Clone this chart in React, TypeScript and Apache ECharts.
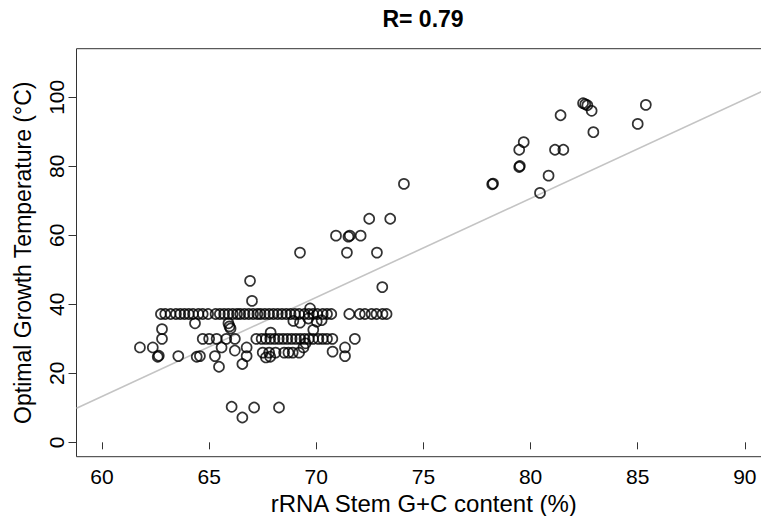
import React, { useEffect, useRef } from "react";
import * as echarts from "echarts";

const FONT = "Liberation Sans";

const titleText = "R= 0.79";
const xName = "rRNA Stem G+C content (%)";
const yName = "Optimal Growth Temperature (°C)";

const xTicks = [60, 65, 70, 75, 80, 85, 90];
const yTicks = [0, 20, 40, 60, 80, 100];

// hyperthermophiles / thermophiles
const hotPoints: number[][] = [
  [85.38, 97.8], [85.0, 92.3], [82.45, 98.3], [82.55, 98.0], [82.65, 97.7],
  [82.85, 96.1], [82.93, 89.9], [81.4, 94.8], [81.14, 84.8], [81.53, 84.8],
  [80.84, 77.3], [80.44, 72.3], [79.68, 87.0], [79.47, 84.8], [79.47, 79.8],
  [79.5, 80.1], [78.21, 74.8], [78.25, 75.0],
];

const midPoints: number[][] = [
  [74.09, 74.9], [72.47, 64.8], [73.45, 64.8], [70.92, 59.9], [71.5, 59.6],
  [71.56, 59.9], [72.07, 59.9], [69.24, 55.0], [71.43, 55.0], [72.83, 55.0],
  [73.08, 45.0], [66.91, 46.8], [67.0, 41.0],
];

const coldPoints: number[][] = [
  [66.05, 10.3], [67.1, 10.1], [68.26, 10.1], [66.55, 7.2],
];

// row of organisms at 37 °C
const row37X = [
  62.75, 62.95, 63.2, 63.45, 63.65, 63.85, 64.05, 64.25, 64.5, 64.7, 64.95,
  65.3, 65.5, 65.7, 65.9, 66.1, 66.3, 66.45, 66.65, 66.85, 67.05, 67.25, 67.4,
  67.6, 67.8, 68.0, 68.2, 68.4, 68.6, 68.8, 69.0, 69.2, 69.45, 69.65, 69.85,
  70.05, 70.3, 70.5, 70.7, 71.54, 72.03, 72.27, 72.58, 72.81, 73.09, 73.28,
];
const row37Y = 37.2;

const nearRowPoints: number[][] = [
  [64.34, 34.5], [65.9, 34.5], [65.95, 33.6], [66.0, 33.0], [62.8, 32.8],
  [68.93, 35.2], [69.24, 34.7], [69.63, 35.9], [69.71, 38.8], [69.86, 32.6],
  [70.02, 35.0], [70.25, 35.4], [67.87, 31.8],
];

// row of organisms at 30 °C
const row30X = [
  62.8, 64.7, 65.0, 65.35, 65.8, 66.2, 67.2, 67.45, 67.65, 67.85, 68.05, 68.25,
  68.45, 68.65, 68.85, 69.05, 69.25, 69.45, 69.65, 69.85, 70.1, 70.3, 70.5,
  70.75, 71.8,
];
const row30Y = 30.0;

const lowPoints: number[][] = [
  [61.77, 27.5], [62.37, 27.5], [62.6, 24.8], [62.65, 25.1], [63.56, 25.0],
  [64.42, 24.8], [64.57, 25.0], [65.27, 25.0], [65.46, 21.9], [65.58, 27.5],
  [66.2, 26.6], [66.55, 22.7], [66.75, 27.5], [66.75, 25.0], [67.5, 26.0],
  [67.65, 24.6], [67.8, 26.0], [67.85, 24.8], [68.1, 26.0], [68.5, 26.0],
  [68.7, 26.0], [68.9, 26.0], [69.2, 26.0], [69.4, 27.5], [69.5, 28.7],
  [70.76, 26.3], [71.34, 27.5], [71.34, 25.0],
];

// fitted regression line end points
const lineX = [58.81, 91.22];
const lineY = [9.9, 102.9];

export default function App() {
  const ref = useRef<HTMLDivElement>(null);

  useEffect(() => {
    if (!ref.current) return;
    const chart = echarts.init(ref.current, undefined, { renderer: "svg" });

    const points = [
      ...hotPoints,
      ...midPoints,
      ...coldPoints,
      ...row37X.map((x) => [x, row37Y]),
      ...nearRowPoints,
      ...row30X.map((x) => [x, row30Y]),
      ...lowPoints,
    ];

    const option: any = {
      animation: false,
      backgroundColor: "#ffffff",
      grid: {
        left: 76.5,
        top: 48.7,
        right: -10,
        bottom: 59.3,
        show: true,
        borderColor: "#333",
        borderWidth: 1,
        backgroundColor: "transparent",
        outerBoundsMode: "none",
        containLabel: false,
      },
      graphic: [
        {
          type: "text",
          x: 423,
          y: 19,
          style: {
            text: titleText,
            fontSize: 23,
            fontWeight: "bold",
            fontFamily: FONT,
            fill: "#000",
            align: "center",
            verticalAlign: "middle",
          },
        },
      ],
      xAxis: {
        type: "value",
        min: 58.81,
        max: 91.22,
        axisLine: { show: false },
        splitLine: { show: false },
        axisTick: {
          show: true,
          length: 7,
          customValues: xTicks,
          lineStyle: { color: "#333", width: 1 },
        },
        axisLabel: {
          customValues: xTicks,
          fontSize: 21,
          color: "#000",
          fontFamily: FONT,
          margin: 9,
        },
        name: xName,
        nameLocation: "middle",
        nameGap: 30,
        nameTextStyle: {
          fontSize: 24,
          color: "#000",
          fontFamily: FONT,
          verticalAlign: "top",
        },
      },
      yAxis: {
        type: "value",
        min: -4.17,
        max: 114.1,
        axisLine: { show: false },
        splitLine: { show: false },
        axisTick: {
          show: true,
          length: 8,
          customValues: yTicks,
          lineStyle: { color: "#333", width: 1 },
        },
        axisLabel: {
          customValues: yTicks,
          fontSize: 21,
          color: "#000",
          fontFamily: FONT,
          rotate: 90,
          margin: 10,
        },
        name: yName,
        nameLocation: "middle",
        nameGap: 42,
        nameRotate: 90,
        nameTextStyle: { fontSize: 23, color: "#000", fontFamily: FONT },
      },
      series: [
        {
          type: "line",
          data: lineX.map((x, i) => [x, lineY[i]]),
          symbol: "none",
          lineStyle: { color: "#c4c4c4", width: 1.6 },
          z: 1,
          silent: true,
        },
        {
          type: "scatter",
          data: points,
          symbol: "circle",
          symbolSize: 10,
          itemStyle: {
            color: "rgba(0,0,0,0)",
            borderColor: "#000",
            borderWidth: 1.7,
          },
          z: 2,
          silent: true,
        },
      ],
    };

    chart.setOption(option);
    return () => chart.dispose();
  }, []);

  return (
    <div
      ref={ref}
      style={{ position: "absolute", left: 0, top: 0, width: 761, height: 516 }}
    />
  );
}
